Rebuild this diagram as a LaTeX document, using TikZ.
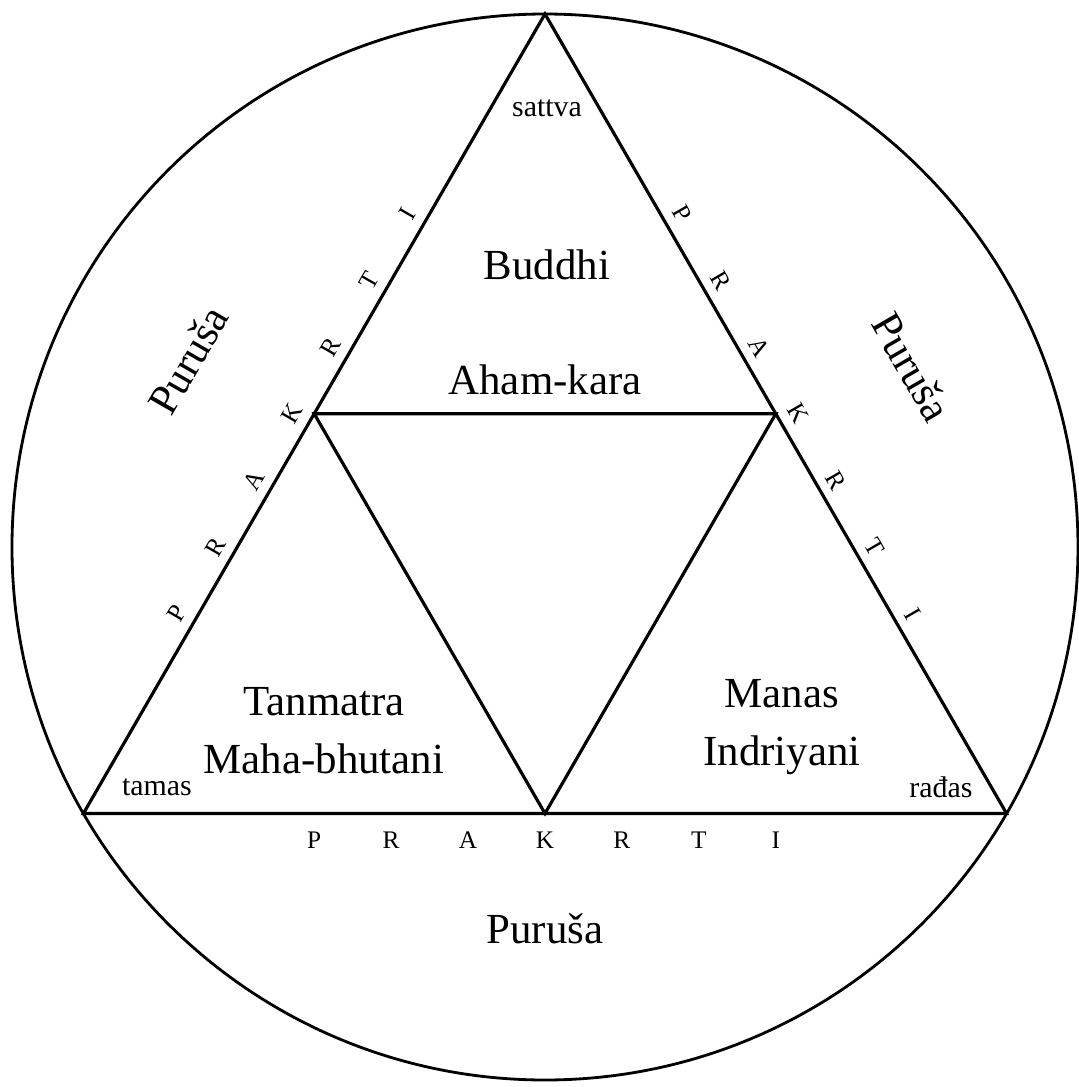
\documentclass[tikz,border=0pt]{standalone}
\usepackage{fontspec}
\setmainfont{Liberation Serif}
\usetikzlibrary{calc, positioning}
\tikzstyle{bigtext} = [font=\fontsize{12.2}{16.5}\selectfont, 
align=center]
\tikzstyle{gunatext} = [font=\fontsize{8.5}{10}\selectfont]
\tikzstyle{letter} = [font=\fontsize{7.2}{8}\selectfont, 
inner sep=0pt]
\tikzstyle{edge} = [line width=0.9pt]

\begin{document}
\begin{tikzpicture}
        \useasboundingbox (-5.45,-5.40) rectangle (5.34,5.47);

        % --- Circle and triangle ---
        \coordinate (c) at (0,0);
        \coordinate (top) at (90:5.33);
        \coordinate (bl) at (210:5.33);
        \coordinate (br) at (330:5.33);
        \coordinate (ml) at ($(bl)!0.5!(top)$);
        \coordinate (mr) at ($(top)!0.5!(br)$);
        \coordinate (mb) at ($(bl)!0.5!(br)$);

        \draw [line width=0.8pt] (c) circle (5.33);
        \draw [edge] (top) -- (br) -- (bl) -- cycle;
        \draw [edge] (ml) -- (mr) -- (mb) -- cycle;

        % --- Texts ---
        \node (sattva) [gunatext] at (0.02,4.39) {sattva};
        \node (tamas) [gunatext] at (-3.88,-2.40) {tamas};
        \node (radas) [gunatext] at (3.96,-2.40) {rađas};

        \node (buddhi) [bigtext] at (0.02,2.82) {Buddhi};
        \node (ahamkara) [bigtext] at (0,1.67) {Aham-kara};
        \node (tanmatra) [bigtext] at (-2.21,-1.84) {Tanmatra\\Maha-bhutani};
        \node (manas) [bigtext] at (2.37,-1.80) {Manas\\Indriyani};

        \node (purusa_b) [bigtext] at (0,-3.82) {Puruša};
        \node (purusa_l) [bigtext, rotate=60] at (-3.57,1.87) {Puruša};
        \node (purusa_r) [bigtext, rotate=-60] at (3.67,1.80) {Puruša};

        % --- PRAKRTI along the sides ---
        \foreach \l/\p in {P/0.25, R/0.3333, A/0.4167, K/0.5, R/0.5833, T/0.6667, I/0.75}{
            \node [letter, rotate=60] at ($(bl)!\p!(top)+(-0.22,0)$) {\l};
            \node [letter, rotate=-60] at ($(top)!\p!(br)+(0.22,0)$) {\l};
            \node [letter] at ($(bl)!\p!(br)+(0,-0.27)$) {\l};
        }

    \end{tikzpicture}
\end{document}
